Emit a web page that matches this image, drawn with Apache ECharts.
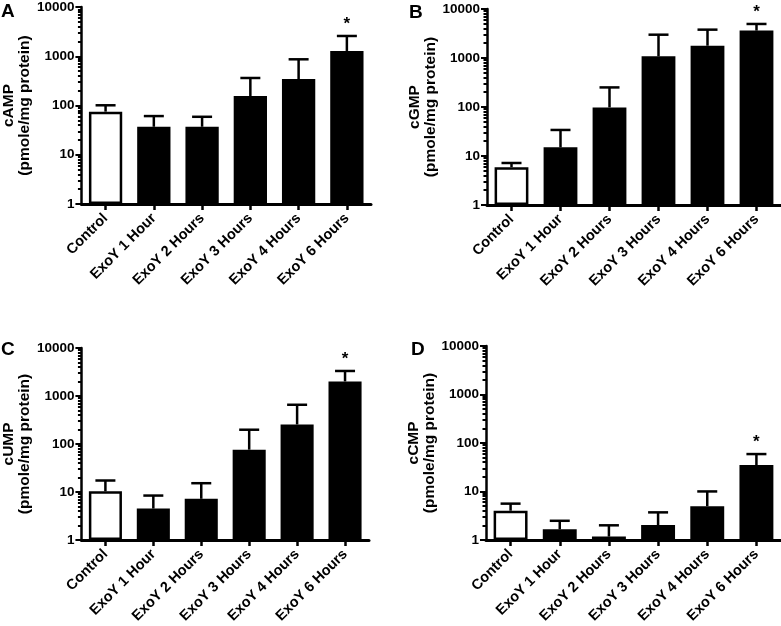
<!DOCTYPE html>
<html><head><meta charset="utf-8">
<script src="https://cdn.jsdelivr.net/npm/echarts@6/dist/echarts.min.js"></script>
<style>html,body{margin:0;padding:0;background:#fff}#c{width:781px;height:626px}</style>
</head><body><div id="c"></div>
<script>
const categories = ['Control', 'ExoY 1 Hour', 'ExoY 2 Hours', 'ExoY 3 Hours', 'ExoY 4 Hours', 'ExoY 6 Hours'];
const yTicks = [1, 10, 100, 1000, 10000];
const yMinorTicks = [2,3,4,5,6,7,8,9, 20,30,40,50,60,70,80,90, 200,300,400,500,600,700,800,900, 2000,3000,4000,5000,6000,7000,8000,9000];
const significance = ['', '', '', '', '', '*'];

const cAMP      = [75, 37, 37, 156, 345, 1280];
const cAMP_up   = [101, 61, 59, 362, 867, 2580];
const cGMP      = [5.9, 15, 98, 1080, 1780, 3620];
const cGMP_up   = [7.2, 34, 251, 2990, 3790, 4950];
const cUMP      = [10.3, 4.5, 7.2, 76, 255, 2010];
const cUMP_up   = [17.3, 8.4, 15.2, 198, 656, 3320];
const cCMP      = [4.0, 1.65, 1.17, 2.03, 4.96, 35];
const cCMP_up   = [5.6, 2.48, 2.0, 3.7, 10, 59];

const panelLetters = ['A', 'B', 'C', 'D'];
const panelNames = ['cAMP', 'cGMP', 'cUMP', 'cCMP'];
const panelValues = [cAMP, cGMP, cUMP, cCMP];
const panelUpper = [cAMP_up, cGMP_up, cUMP_up, cCMP_up];
const yUnit = '(pmole/mg protein)';

const FONT = '"Liberation Sans", Arial, Helvetica, sans-serif';
const grids = [
  {left: 72, top: 7, width: 299, height: 197},
  {left: 487, top: 9, width: 300, height: 196},
  {left: 73, top: 348, width: 296, height: 195},
  {left: 486, top: 346, width: 300, height: 196}
];
const nameGaps = [37, 40, 37, 40];
const letterPos = [[1, 2], [409, 3], [1, 340], [411, 340]];
const LOG_MIN = Math.log10(yTicks[0]), LOG_MAX = Math.log10(yTicks[yTicks.length - 1]);

function errRender(sig) {
  return function (params, api) {
    const i = api.value(0);
    const p0 = api.coord([i, api.value(1)]);
    const p1 = api.coord([i, api.value(2)]);
    const half = 10;
    const st = {stroke: '#000', lineWidth: 2.5};
    const children = [
      {type: 'line', shape: {x1: p0[0], y1: p0[1], x2: p1[0], y2: p1[1]}, style: st},
      {type: 'line', shape: {x1: p1[0] - half, y1: p1[1], x2: p1[0] + half, y2: p1[1]}, style: st}
    ];
    if (sig[i]) {
      children.push({type: 'text', style: {text: sig[i], x: p1[0], y: p1[1] - 3, align: 'center', verticalAlign: 'bottom',
        font: 'bold 17px ' + FONT, fill: '#000'}});
    }
    return {type: 'group', children};
  };
}

const option = {
  animation: false,
  backgroundColor: '#fff',
  grid: grids.map(g => Object.assign({containLabel: false}, g)),
  xAxis: [], yAxis: [], series: [],
  graphic: panelLetters.map((L, k) => ({
    type: 'text', left: letterPos[k][0], top: letterPos[k][1],
    style: {text: L, font: 'bold 19px ' + FONT, fill: '#000'}
  }))
};

for (let k = 0; k < 4; k++) {
  option.xAxis.push({
    type: 'category', gridIndex: k, data: categories, boundaryGap: true,
    axisLine: {onZero: false, lineStyle: {color: '#000', width: 3}},
    axisTick: {show: true, alignWithLabel: true, length: 6, lineStyle: {color: '#000', width: 2.5}},
    axisLabel: {rotate: 45, margin: 12, color: '#000', fontWeight: 'bold', fontSize: 14.5, fontFamily: FONT, interval: 0},
    splitLine: {show: false}
  });
}
// main log axes (indices 0..3): line, labels, name
for (let k = 0; k < 4; k++) {
  option.yAxis.push({
    type: 'log', logBase: 10, gridIndex: k, min: yTicks[0], max: yTicks[yTicks.length - 1], position: 'left',
    name: panelNames[k] + '\n' + yUnit, nameLocation: 'middle', nameGap: nameGaps[k],
    nameTextStyle: {color: '#000', fontWeight: 'bold', fontSize: 15.5, fontFamily: FONT, lineHeight: 16},
    axisLine: {show: true, onZero: false, lineStyle: {color: '#000', width: 2.5}},
    axisTick: {show: false},
    axisLabel: {color: '#000', fontWeight: 'bold', fontSize: 13.5, fontFamily: FONT, margin: 7,
      formatter: v => String(Math.round(v))},
    splitLine: {show: false}
  });
}
// tick-only axes in log10 units: major (4..7) and minor (8..11)
for (let k = 0; k < 4; k++) {
  option.yAxis.push({
    type: 'value', gridIndex: k, min: LOG_MIN, max: LOG_MAX, position: 'left',
    axisLine: {show: false},
    axisTick: {show: true, length: 6, lineStyle: {color: '#000', width: 2}, customValues: yTicks.map(v => Math.log10(v))},
    axisLabel: {show: false},
    splitLine: {show: false}
  });
}
for (let k = 0; k < 4; k++) {
  option.yAxis.push({
    type: 'value', gridIndex: k, min: LOG_MIN, max: LOG_MAX, position: 'left',
    axisLine: {show: false},
    axisTick: {show: true, length: 3.5, lineStyle: {color: '#000', width: 2}, customValues: yMinorTicks.map(v => Math.log10(v))},
    axisLabel: {show: false},
    splitLine: {show: false}
  });
}
for (let k = 0; k < 4; k++) {
  const vals = panelValues[k], ups = panelUpper[k];
  option.series.push({
    type: 'bar', xAxisIndex: k, yAxisIndex: k, barWidth: '69%',
    data: vals.map((v, i) => ({
      value: v,
      itemStyle: i === 0 ? {color: '#fff', borderColor: '#000', borderWidth: 2.5} : {color: '#000'}
    }))
  });
  option.series.push({
    type: 'custom', xAxisIndex: k, yAxisIndex: k, z: 5,
    renderItem: errRender(significance),
    encode: {x: 0, y: [1, 2]},
    data: vals.map((v, i) => [i, v, ups[i]])
  });
}

const chart = echarts.init(document.getElementById('c'), null, {renderer: 'canvas'});
chart.setOption(option);
</script>
</body></html>
